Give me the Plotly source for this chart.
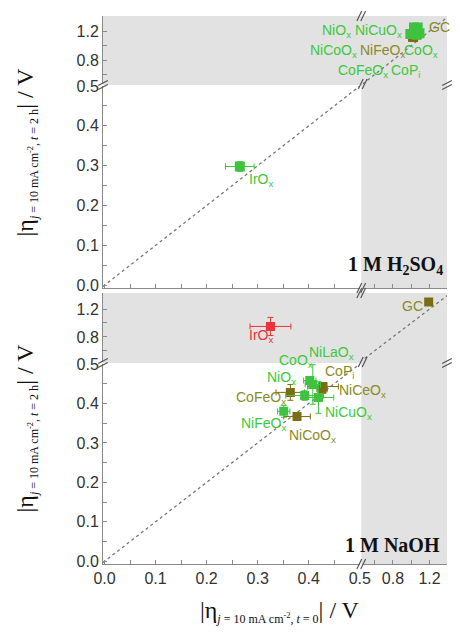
import plotly.graph_objects as go

# ---------------- data ----------------
# 1 M H2SO4 panel
acid_catalysts = ["IrO<sub>x</sub>", "NiO<sub>x</sub>", "NiCuO<sub>x</sub>", "NiCoO<sub>x</sub>",
                  "NiFeO<sub>x</sub>", "CoO<sub>x</sub>", "CoFeO<sub>x</sub>", "CoP<sub>i</sub>", "GC"]
acid_eta_t0 = [0.265, 1.03, 1.07, 0.99, 1.02, 1.09, 1.03, 1.06, 1.02]
acid_eta_t2h = [0.298, 1.25, 1.25, 1.16, 1.14, 1.17, 1.19, 1.15, 1.12]
acid_err_t0 = [0.028, 0.01, 0.01, 0.01, 0.01, 0.01, 0.01, 0.01, 0.0]
acid_err_t2h = [0.012, 0.01, 0.01, 0.01, 0.01, 0.01, 0.01, 0.01, 0.0]
acid_group = ["green", "green", "green", "green", "olive", "green", "green", "green", "olive"]

# 1 M NaOH panel
base_catalysts = ["IrO<sub>x</sub>", "GC", "CoO<sub>x</sub>", "NiLaO<sub>x</sub>", "NiO<sub>x</sub>",
                  "CoP<sub>i</sub>", "CoFeO<sub>x</sub>", "NiCeO<sub>x</sub>", "NiCuO<sub>x</sub>",
                  "NiFeO<sub>x</sub>", "NiCoO<sub>x</sub>"]
base_eta_t0 = [0.325, 1.19, 0.402, 0.408, 0.392, 0.428, 0.364, 0.426, 0.419, 0.351, 0.377]
base_eta_t2h = [0.95, 1.30, 0.458, 0.448, 0.420, 0.443, 0.428, 0.436, 0.415, 0.380, 0.367]
base_err_t0 = [0.04, 0.0, 0.012, 0.015, 0.037, 0.03, 0.028, 0.01, 0.03, 0.012, 0.026]
base_err_t2h = [0.13, 0.0, 0.01, 0.05, 0.012, 0.01, 0.02, 0.01, 0.04, 0.015, 0.01]
base_group = ["red", "olive", "green", "green", "green", "olive", "olive", "olive", "green", "green", "olive"]

# ticks
lo_ticks = [0.0, 0.1, 0.2, 0.3, 0.4, 0.5]
lo_text = ["0.0", "0.1", "0.2", "0.3", "0.4", "0.5"]
lo_minor = [0.05, 0.15, 0.25, 0.35, 0.45]
hi_ticks = [0.8, 1.2]
hi_text = ["0.8", "1.2"]
hi_minor = [0.6, 1.0]

# ---------------- layout helpers ----------------
W, H = 460, 635
ML, MR, MT, MB = 103, 2, 16, 71
PW, PH = W - ML - MR, H - MT - MB


def px(x):
    return (x - ML) / PW


def py(y):
    return (H - MB - y) / PH


XL_DOM = [0, px(368)]
XR_DOM = [px(371), 1]
TOP_LO = [py(288), py(86)]
TOP_HI = [py(84), 1]
BOT_LO = [0, py(364)]
BOT_HI = [py(362), py(293)]

X_LO_RANGE = [-0.003, 0.5]
X_HI_RANGE = [0.47, 1.39]
Y_LO_RANGE = [-0.007, 0.5]
TOP_Y_HI_RANGE = [0.47, 1.41]
BOT_Y_HI_RANGE = [0.44, 1.43]

COL = {"green": "#3fc23f", "olive": "#7b6d12", "red": "#e8343a"}
LCOL = {"green": "#3cc83c", "olive": "#8a8a26", "red": "#e8343a"}
AX = "#8a8a8a"
TICKFONT = dict(family="Liberation Sans, Arial", size=16, color="#333333")

base_ax = dict(showline=True, linecolor=AX, linewidth=1, ticks="inside", ticklen=4,
               tickcolor=AX, tickwidth=1, tickfont=TICKFONT, showgrid=False,
               zeroline=False, fixedrange=True, tickmode="array")

fig = go.Figure()


def make_ax(dom, rng, anchor, side, labels, lo):
    return dict(base_ax, domain=dom, range=rng, anchor=anchor, side=side,
                showticklabels=labels,
                tickvals=lo_ticks if lo else hi_ticks,
                ticktext=lo_text if lo else hi_text,
                minor=dict(tickmode="array", tickvals=lo_minor if lo else hi_minor,
                           ticks="inside", ticklen=4, tickcolor=AX, tickwidth=1, showgrid=False))


def xax(dom, rng, anchor, side="bottom", labels=False, lo=True):
    return make_ax(dom, rng, anchor, side, labels, lo)


def yax(dom, rng, anchor, side="left", labels=False, lo=True):
    return make_ax(dom, rng, anchor, side, labels, lo)


layout_axes = dict(
    # top panel
    xaxis=xax(XL_DOM, X_LO_RANGE, "y"),
    xaxis2=xax(XR_DOM, X_HI_RANGE, "y", lo=False),
    xaxis5=xax(XL_DOM, X_LO_RANGE, "y2", side="top"),
    xaxis6=xax(XR_DOM, X_HI_RANGE, "y2", side="top", lo=False),
    yaxis=yax(TOP_LO, Y_LO_RANGE, "x", labels=True),
    yaxis2=yax(TOP_HI, TOP_Y_HI_RANGE, "x", labels=True, lo=False),
    yaxis5=yax(TOP_LO, Y_LO_RANGE, "x2", side="right"),
    yaxis6=yax(TOP_HI, TOP_Y_HI_RANGE, "x2", side="right", lo=False),
    # bottom panel
    xaxis3=xax(XL_DOM, X_LO_RANGE, "y3", labels=True),
    xaxis4=xax(XR_DOM, X_HI_RANGE, "y3", labels=True, lo=False),
    xaxis7=xax(XL_DOM, X_LO_RANGE, "y4", side="top"),
    xaxis8=xax(XR_DOM, X_HI_RANGE, "y4", side="top", lo=False),
    yaxis3=yax(BOT_LO, Y_LO_RANGE, "x3", labels=True),
    yaxis4=yax(BOT_HI, BOT_Y_HI_RANGE, "x3", labels=True, lo=False),
    yaxis7=yax(BOT_LO, Y_LO_RANGE, "x4", side="right"),
    yaxis8=yax(BOT_HI, BOT_Y_HI_RANGE, "x4", side="right", lo=False),
)

# diagonal y = x (dotted), drawn in the lower-left and upper-right sub-areas
diag_style = dict(mode="lines", line=dict(color="#777777", width=1.3, dash="dot"),
                  hoverinfo="skip", showlegend=False)
fig.add_trace(go.Scatter(x=X_LO_RANGE, y=X_LO_RANGE, xaxis="x", yaxis="y", **diag_style))
fig.add_trace(go.Scatter(x=TOP_Y_HI_RANGE, y=TOP_Y_HI_RANGE, xaxis="x2", yaxis="y2", **diag_style))
fig.add_trace(go.Scatter(x=X_LO_RANGE, y=X_LO_RANGE, xaxis="x3", yaxis="y3", **diag_style))
fig.add_trace(go.Scatter(x=BOT_Y_HI_RANGE, y=BOT_Y_HI_RANGE, xaxis="x4", yaxis="y4", **diag_style))


def add_points(xs, ys, exs, eys, groups, xlo, xhi, ylo, yhi, size):
    order = sorted(range(len(xs)), key=lambda i: 0 if groups[i] == "olive" else 1)
    for i in order:
        c = COL[groups[i]]
        fig.add_trace(go.Scatter(
            x=[xs[i]], y=[ys[i]], mode="markers",
            marker=dict(symbol="square", size=size, color=c, line=dict(width=0)),
            error_x=dict(type="data", array=[exs[i]], color=c, thickness=1, width=3, visible=exs[i] > 0),
            error_y=dict(type="data", array=[eys[i]], color=c, thickness=1, width=3, visible=eys[i] > 0),
            xaxis=xhi if xs[i] > 0.5 else xlo,
            yaxis=yhi if ys[i] > 0.5 else ylo,
            showlegend=False, hoverinfo="skip"))


add_points(acid_eta_t0, acid_eta_t2h, acid_err_t0, acid_err_t2h, acid_group, "x", "x2", "y", "y2", 10)
add_points(base_eta_t0, base_eta_t2h, base_err_t0, base_err_t2h, base_group, "x3", "x4", "y3", "y4", 9)

# ---------------- annotations ----------------
LBL_FONT = "Liberation Sans, Arial"
acid_label_pos = [(252, 180), (327, 31), (361, 31), (315, 51), (366, 51), (412, 51), (343, 71), (398, 71), (437, 27)]
base_label_pos = [(252, 336), (410, 306), (283, 361), (314, 353), (270, 378), (330, 372), (238, 398),
                  (344, 391), (330, 413), (243, 424), (293, 436)]

annotations = []
for names, groups, pos in [(acid_catalysts, acid_group, acid_label_pos),
                           (base_catalysts, base_group, base_label_pos)]:
    for n, g, (lx, ly) in zip(names, groups, pos):
        annotations.append(dict(text=n, x=px(lx), y=py(ly), xref="paper", yref="paper",
                                xanchor="left", yanchor="middle", showarrow=False,
                                font=dict(family=LBL_FONT, size=14, color=LCOL[g])))

SERIF = "Liberation Serif, Times New Roman"
annotations.append(dict(text="<b>1 M H<sub>2</sub>SO<sub>4</sub></b>", x=px(456), y=py(265),
                        xref="paper", yref="paper", xanchor="right", yanchor="middle",
                        showarrow=False, font=dict(family=SERIF, size=20, color="#111")))
annotations.append(dict(text="<b>1 M NaOH</b>", x=px(453), y=py(545),
                        xref="paper", yref="paper", xanchor="right", yanchor="middle",
                        showarrow=False, font=dict(family=SERIF, size=20, color="#111")))

ytitle = ("|η<sub><span style='font-size:12px'><i>j</i> = 10 mA cm<sup>-2</sup>, "
          "<i>t</i> = 2 h</span></sub>| / V")
xtitle = ("|η<sub><span style='font-size:12px'><i>j</i> = 10 mA cm<sup>-2</sup>, "
          "<i>t</i> = 0</span></sub>| / V")
for cy in (152, 428):
    annotations.append(dict(text=ytitle, x=px(24), y=py(cy), xref="paper", yref="paper",
                            xanchor="center", yanchor="middle", textangle=-90, showarrow=False,
                            font=dict(family=SERIF, size=24, color="#111")))
annotations.append(dict(text=xtitle, x=px(286), y=py(612), xref="paper", yref="paper",
                        xanchor="center", yanchor="middle", showarrow=False,
                        font=dict(family=SERIF, size=24, color="#111")))

# ---------------- shapes: shading and break marks ----------------
GRAY = "#e2e2e2"
shapes = []


def rect(x0, x1, y0, y1):
    shapes.append(dict(type="rect", xref="paper", yref="paper", x0=px(x0), x1=px(x1),
                       y0=py(y0), y1=py(y1), fillcolor=GRAY, line=dict(width=0), layer="below"))


rect(369.5, 458, 288, 16)
rect(103, 458, 85, 16)
rect(369.5, 458, 564, 293)
rect(103, 458, 363, 293)


def seg(x0, y0, x1, y1, color="#555555", w=1.2):
    shapes.append(dict(type="line", xref="paper", yref="paper", x0=px(x0), y0=py(y0),
                       x1=px(x1), y1=py(y1), line=dict(color=color, width=w), layer="above"))


def xbreak(cx, cy):
    for d in (-2, 2):
        seg(cx + d - 2.5, cy + 5, cx + d + 2.5, cy - 5)


def ybreak(cx, cy):
    for d in (-2, 2):
        seg(cx - 5, cy + d + 2.5, cx + 5, cy + d - 2.5)


for cy in (16, 288, 293, 564):
    xbreak(369.5, cy)
for cx in (103, 458):
    ybreak(cx, 85)
    ybreak(cx, 363)
xbreak(371, 84)
xbreak(371, 362)

fig.update_layout(
    width=W, height=H, margin=dict(l=ML, r=MR, t=MT, b=MB, pad=0),
    paper_bgcolor="white", plot_bgcolor="rgba(0,0,0,0)",
    showlegend=False, annotations=annotations, shapes=shapes,
    **layout_axes)

fig.write_html("out.html")
